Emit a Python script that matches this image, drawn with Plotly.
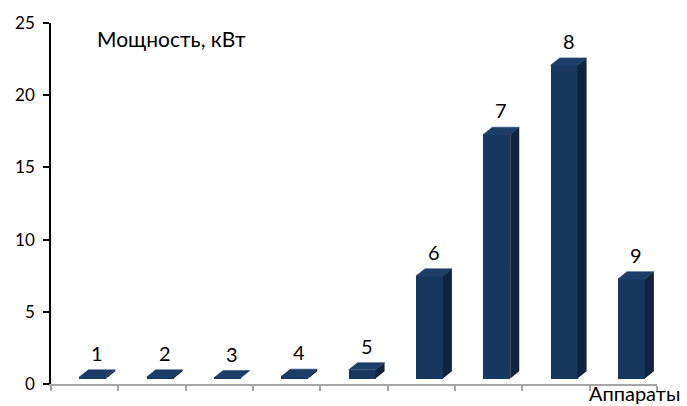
import plotly.graph_objects as go

# Apparatus numbers and their power, kW
apparatus = [1, 2, 3, 4, 5, 6, 7, 8, 9]
power_kw = [0.1, 0.1, 0.05, 0.15, 0.6, 7.1, 16.9, 21.7, 6.9]
y_ticks = [0, 5, 10, 15, 20, 25]

# pseudo-3D column geometry (axis units)
FLOOR = 0.38      # lift of column bases above the zero line
OFFSET = 0.12     # shift of front faces right of the category centre
WIDTH = 0.40      # front face width
DX = 0.134        # depth, horizontal
DY = 0.50         # depth, vertical

FRONT = "#17375E"
TOP = "#1C3D66"
SIDE = "#10233F"

fig = go.Figure()

xs = [a + OFFSET for a in apparatus]
fig.add_trace(go.Bar(
    x=xs, y=power_kw, base=[FLOOR] * len(power_kw), width=WIDTH,
    marker=dict(color=FRONT, line=dict(width=0)), hoverinfo="skip",
))

top_x, top_y, side_x, side_y = [], [], [], []
for xc, v in zip(xs, power_kw):
    x0, x1 = xc - WIDTH / 2, xc + WIDTH / 2
    yb, yt = FLOOR, FLOOR + v
    top_x += [x0, x1, x1 + DX, x0 + DX, x0, None]
    top_y += [yt, yt, yt + DY, yt + DY, yt, None]
    side_x += [x1, x1 + DX, x1 + DX, x1, x1, None]
    side_y += [yb, yb + DY, yt + DY, yt, yb, None]

fig.add_trace(go.Scatter(x=top_x, y=top_y, mode="lines", fill="toself",
                         fillcolor=TOP, line=dict(width=0.6, color="#24487A"),
                         hoverinfo="skip"))
fig.add_trace(go.Scatter(x=side_x, y=side_y, mode="lines", fill="toself",
                         fillcolor=SIDE, line=dict(width=0, color=SIDE),
                         hoverinfo="skip"))

# category number above every column
for a, xc, v in zip(apparatus, xs, power_kw):
    fig.add_annotation(x=xc + 0.07, y=FLOOR + v + DY, text=str(a),
                       showarrow=False, yanchor="bottom", yshift=3,
                       font=dict(family="Lato", size=20, color="#000000"))

fig.add_annotation(xref="paper", yref="paper", x=0.073, y=1.0,
                   xanchor="left", yanchor="top", yshift=-1,
                   text="Мощность, кВт", showarrow=False,
                   font=dict(family="Lato", size=21, color="#000000"))
fig.add_annotation(xref="paper", yref="paper", x=0.884, y=0,
                   xanchor="left", yanchor="top", yshift=5,
                   text="Аппараты", showarrow=False,
                   font=dict(family="Lato", size=20, color="#000000"))

fig.update_layout(
    width=687, height=406,
    margin=dict(l=51, r=30, t=20, b=22),
    paper_bgcolor="white", plot_bgcolor="white",
    showlegend=False, bargap=0,
    font=dict(family="Lato", size=17, color="#000000"),
    xaxis=dict(range=[0.5, 9.5], showgrid=False, zeroline=False,
               showline=True, linecolor="#A6A6A6", linewidth=1.5,
               tickvals=[a - 0.5 for a in apparatus] + [9.5],
               ticks="outside", ticklen=5, tickcolor="#A6A6A6",
               tickwidth=1.5, showticklabels=False),
    yaxis=dict(range=[0, 25], tickvals=y_ticks, showgrid=False,
               zeroline=False, showline=True, linecolor="#000000",
               linewidth=1.5, ticks="outside", ticklen=6,
               tickcolor="#000000", tickwidth=1.5,
               ticklabelstandoff=5,
               tickfont=dict(family="Lato", size=17, color="#000000")),
)

fig.write_html("out.html")
